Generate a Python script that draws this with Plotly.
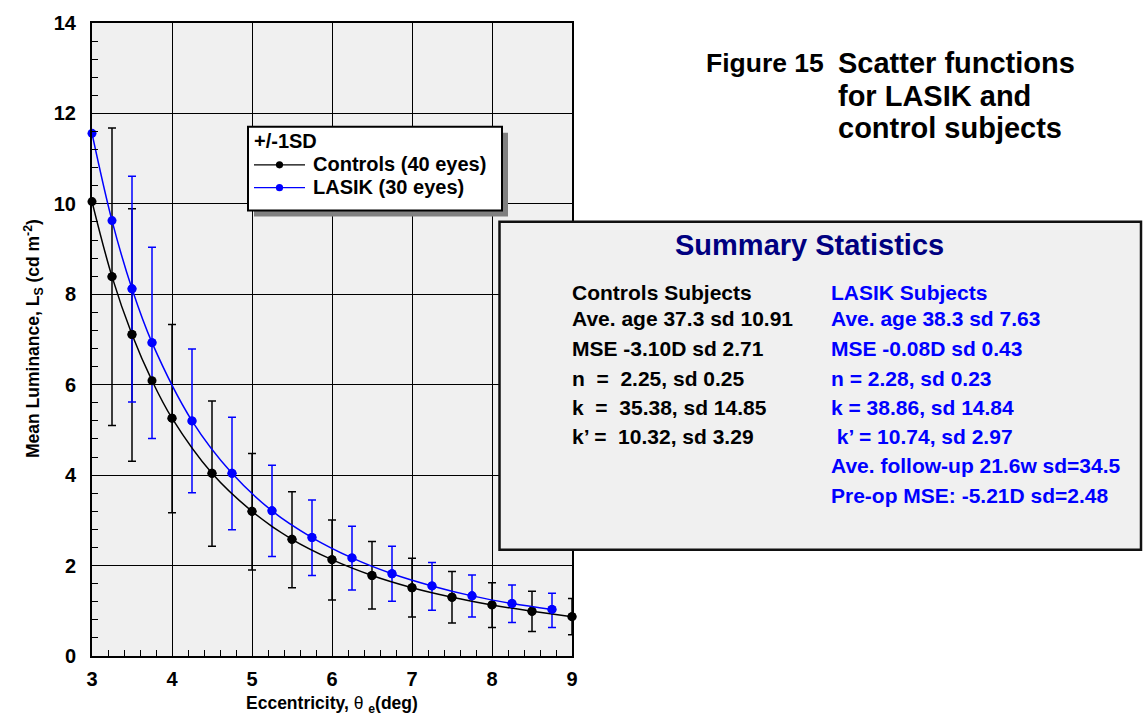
import plotly.graph_objects as go

# ---- data -------------------------------------------------------------
ctrl_x = [3, 3.25, 3.5, 3.75, 4, 4.5, 5, 5.5, 6, 6.5, 7, 7.5, 8, 8.5, 9]
ctrl_y = [10.05, 8.39, 7.11, 6.09, 5.26, 4.04, 3.20, 2.58, 2.13, 1.78, 1.51, 1.30, 1.13, 0.99, 0.87]
ctrl_hi = [None, 11.68, 9.89, None, 7.33, 5.64, 4.48, 3.63, 3.01, 2.53, 2.16, 1.87, 1.62, 1.43, 1.27]
ctrl_lo = [None, 5.10, 4.31, None, 3.17, 2.43, 1.90, 1.51, 1.24, 1.04, 0.86, 0.73, 0.63, 0.54, 0.47]

lasik_x = [3, 3.25, 3.5, 3.75, 4.25, 4.75, 5.25, 5.75, 6.25, 6.75, 7.25, 7.75, 8.25, 8.75]
lasik_y = [11.56, 9.63, 8.12, 6.93, 5.20, 4.04, 3.21, 2.62, 2.17, 1.82, 1.55, 1.33, 1.16, 1.03]
lasik_hi = [None, None, 10.61, 9.04, 6.79, 5.28, 4.22, 3.45, 2.87, 2.43, 2.07, 1.79, 1.57, 1.39]
lasik_lo = [None, None, 5.62, 4.81, 3.61, 2.79, 2.20, 1.78, 1.46, 1.21, 1.01, 0.86, 0.74, 0.63]

x_ticks = [3, 4, 5, 6, 7, 8, 9]
y_ticks = [0, 2, 4, 6, 8, 10, 12, 14]

ctrl_name = "Controls (40 eyes)"
lasik_name = "LASIK (30 eyes)"
legend_title = "+/-1SD"

ctrl_stats = ["Controls Subjects", "Ave. age 37.3 sd 10.91", "MSE -3.10D sd 2.71",
              "n  =  2.25, sd 0.25", "k  =  35.38, sd 14.85", "k\u2019 =  10.32, sd 3.29"]
lasik_stats = ["LASIK Subjects", "Ave. age 38.3 sd 7.63", "MSE -0.08D sd 0.43",
               "n = 2.28, sd 0.23", "k = 38.86, sd 14.84", "\u00a0k\u2019 = 10.74, sd 2.97",
               "Ave. follow-up 21.6w sd=34.5", "Pre-op MSE: -5.21D sd=2.48"]

# ---- page geometry (pixels) -------------------------------------------
W, H = 1143, 722
PL, PR, PT, PB = 92, 572, 21, 656   # plot-area edges


def px(x):
    return (x - PL) / (PR - PL)


def py(y):
    return (PB - y) / (PB - PT)


FONT = "Liberation Sans, Arial, Helvetica, sans-serif"
BLUE = "#0000ff"
NAVY = "#000080"


def bar_trace(xs, ys, his, los, color):
    sel = [i for i in range(len(xs)) if his[i] is not None]
    return go.Scatter(
        x=[xs[i] for i in sel], y=[ys[i] for i in sel], mode="markers",
        marker=dict(size=9, color=color), showlegend=False, hoverinfo="skip",
        cliponaxis=False,
        error_y=dict(type="data", symmetric=False,
                     array=[his[i] - ys[i] for i in sel],
                     arrayminus=[ys[i] - los[i] for i in sel],
                     color=color, thickness=1.5, width=4),
    )


fig = go.Figure()
fig.add_trace(bar_trace(ctrl_x, ctrl_y, ctrl_hi, ctrl_lo, "black"))
fig.add_trace(bar_trace(lasik_x, lasik_y, lasik_hi, lasik_lo, BLUE))
fig.add_trace(go.Scatter(x=ctrl_x, y=ctrl_y, mode="lines+markers", name=ctrl_name,
                         line=dict(color="black", width=1.5, shape="spline"),
                         marker=dict(size=9, color="black"), cliponaxis=False,
                         showlegend=False))
fig.add_trace(go.Scatter(x=lasik_x, y=lasik_y, mode="lines+markers", name=lasik_name,
                         line=dict(color=BLUE, width=1.5, shape="spline"),
                         marker=dict(size=9, color=BLUE), cliponaxis=False,
                         showlegend=False))

tickfont = dict(family=FONT, size=20, color="black", weight="bold")
fig.update_xaxes(range=[3, 9], tickvals=x_ticks, ticktext=[str(v) for v in x_ticks],
                 showgrid=True, gridcolor="black", gridwidth=1,
                 showline=True, linecolor="black", linewidth=2, mirror=True,
                 ticks="inside", ticklen=6, tickcolor="black", tickwidth=1,
                 tickfont=tickfont, ticklabelstandoff=4, zeroline=False,
                 minor=dict(dtick=0.2, tick0=3, ticks="inside", ticklen=6,
                            tickcolor="black", tickwidth=1, showgrid=False))
fig.update_yaxes(range=[0, 14], tickvals=y_ticks, ticktext=[str(v) for v in y_ticks],
                 showgrid=True, gridcolor="black", gridwidth=1,
                 showline=True, linecolor="black", linewidth=2, mirror=True,
                 ticks="inside", ticklen=6, tickcolor="black", tickwidth=1,
                 tickfont=tickfont, ticklabelstandoff=10, zeroline=False,
                 minor=dict(dtick=0.4, tick0=0, ticks="inside", ticklen=6,
                            tickcolor="black", tickwidth=1, showgrid=False))

shapes = []
ann = []

# legend box with drop shadow
shapes.append(dict(type="rect", xref="paper", yref="paper", layer="above",
                   x0=px(254), x1=px(508), y0=py(131), y1=py(215),
                   fillcolor="#808080", line=dict(width=0)))
shapes.append(dict(type="rect", xref="paper", yref="paper", layer="above",
                   x0=px(248), x1=px(502), y0=py(125), y1=py(209),
                   fillcolor="white", line=dict(color="black", width=2)))
for yy, col in [(163.3, "black"), (186.2, BLUE)]:
    shapes.append(dict(type="line", xref="paper", yref="paper", layer="above",
                       x0=px(254), x1=px(305), y0=py(yy), y1=py(yy),
                       line=dict(color=col, width=1.2)))
    shapes.append(dict(type="circle", xref="paper", yref="paper", layer="above",
                       x0=px(279.5 - 3.6), x1=px(279.5 + 3.6),
                       y0=py(yy + 3.6), y1=py(yy - 3.6),
                       fillcolor=col, line=dict(color=col, width=0)))
legfont = dict(family=FONT, size=20, color="black", weight="bold")
ann.append(dict(x=px(252), y=py(139.5), text=legend_title, font=legfont))
ann.append(dict(x=px(311), y=py(162.8), text=ctrl_name, font=legfont))
ann.append(dict(x=px(311), y=py(185.7), text=lasik_name, font=legfont))

# summary statistics panel
shapes.append(dict(type="rect", xref="paper", yref="paper", layer="above",
                   x0=px(499.5), x1=px(1141), y0=py(220.5), y1=py(549.5),
                   fillcolor="#f0f0f0", line=dict(color="#111111", width=2.5)))
ann.append(dict(x=px(809), y=py(244), text="Summary Statistics", xanchor="center",
                font=dict(family=FONT, size=29, color=NAVY, weight="bold")))
rows = [291.5, 317.8, 347.6, 377.3, 406.6, 436, 465.3, 495.3]
statfont = 21
for i, t in enumerate(ctrl_stats):
    ann.append(dict(x=px(570), y=py(rows[i]), text=t,
                    font=dict(family=FONT, size=statfont, color="black", weight="bold")))
for i, t in enumerate(lasik_stats):
    ann.append(dict(x=px(829), y=py(rows[i]), text=t,
                    font=dict(family=FONT, size=statfont, color=BLUE, weight="bold")))

# figure caption
capfont = dict(family=FONT, size=29, color="black", weight="bold")
ann.append(dict(x=px(704), y=py(61.5), text="Figure 15",
                font=dict(family=FONT, size=26.5, color="black", weight="bold")))
for t, yy in [("Scatter functions", 61.5), ("for LASIK and", 94), ("control subjects", 126.5)]:
    ann.append(dict(x=px(836), y=py(yy), text=t, font=capfont))

# axis titles
axfont = dict(family=FONT, size=17.5, color="black", weight="bold")
ann.append(dict(x=px(33), y=py(338), text="Mean Luminance, L<sub>S</sub> (cd m<sup>-2</sup>)",
                textangle=-90, xanchor="center", font=axfont))
ann.append(dict(x=px(332), y=py(705),
                text="Eccentricity, <span style='font-weight:normal'>\u03b8</span> <sub>e</sub>(deg)",
                xanchor="center", font=axfont))

for a in ann:
    a.setdefault("xref", "paper")
    a.setdefault("yref", "paper")
    a.setdefault("xanchor", "left")
    a.setdefault("yanchor", "middle")
    a.setdefault("align", "left")
    a.setdefault("showarrow", False)

fig.update_layout(
    width=W, height=H, autosize=False,
    margin=dict(l=PL, r=W - PR, t=PT, b=H - PB, pad=0),
    paper_bgcolor="white", plot_bgcolor="#f0f0f0",
    showlegend=False, shapes=shapes, annotations=ann,
    font=dict(family=FONT, color="black"),
)

fig.write_html("out.html", config={"displayModeBar": False})
